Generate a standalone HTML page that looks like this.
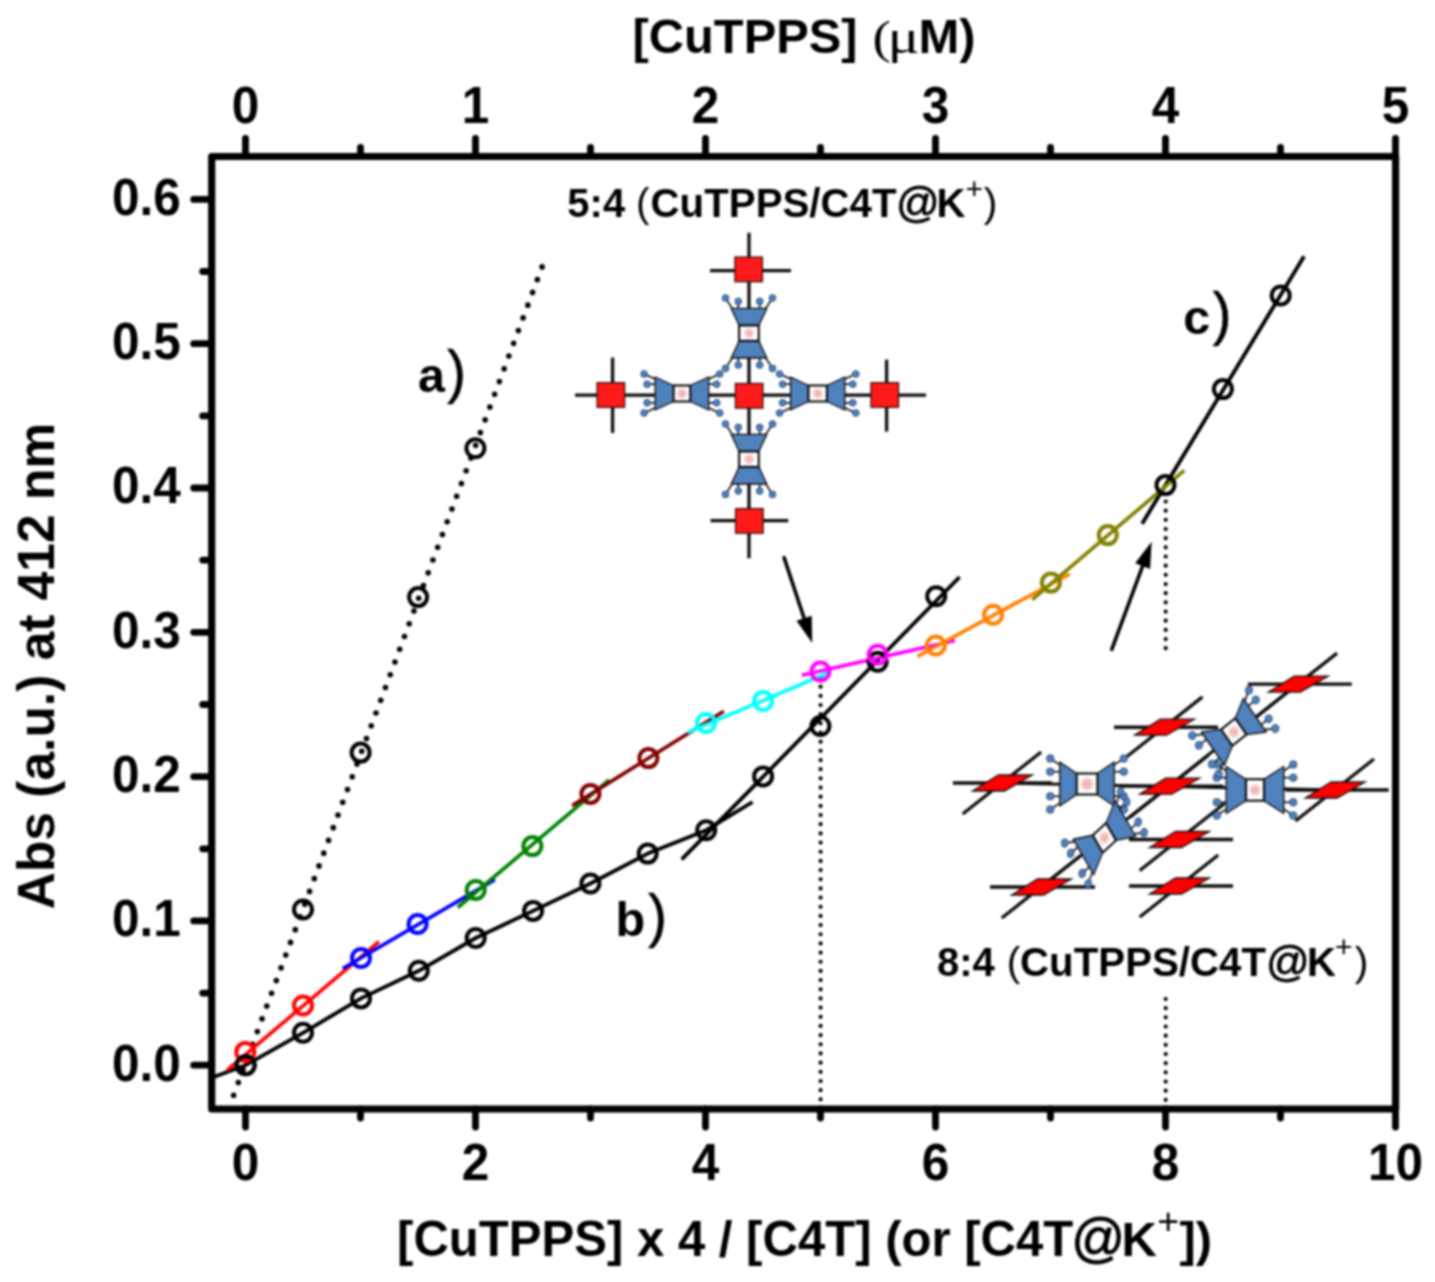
<!DOCTYPE html>
<html><head><meta charset="utf-8"><style>html,body{margin:0;padding:0;background:#fff;}svg{display:block;filter:blur(0.8px);}</style></head>
<body><svg width="1435" height="1282" viewBox="0 0 1435 1282">
<rect width="1435" height="1282" fill="#fff"/>
<rect x="211.7" y="156.5" width="1183.8999999999999" height="952.5" fill="none" stroke="#000" stroke-width="7.2" stroke-linejoin="round"/>
<g stroke="#000" stroke-width="6.8" stroke-linecap="round"><line x1="245.5" y1="1109.0" x2="245.5" y2="1127.0"/><line x1="360.5" y1="1109.0" x2="360.5" y2="1118.0"/><line x1="475.5" y1="1109.0" x2="475.5" y2="1127.0"/><line x1="590.5" y1="1109.0" x2="590.5" y2="1118.0"/><line x1="705.5" y1="1109.0" x2="705.5" y2="1127.0"/><line x1="820.5" y1="1109.0" x2="820.5" y2="1118.0"/><line x1="935.5" y1="1109.0" x2="935.5" y2="1127.0"/><line x1="1050.5" y1="1109.0" x2="1050.5" y2="1118.0"/><line x1="1165.5" y1="1109.0" x2="1165.5" y2="1127.0"/><line x1="1280.5" y1="1109.0" x2="1280.5" y2="1118.0"/><line x1="1395.5" y1="1109.0" x2="1395.5" y2="1127.0"/><line x1="245.5" y1="156.5" x2="245.5" y2="138.5"/><line x1="360.5" y1="156.5" x2="360.5" y2="147.5"/><line x1="475.5" y1="156.5" x2="475.5" y2="138.5"/><line x1="590.5" y1="156.5" x2="590.5" y2="147.5"/><line x1="705.5" y1="156.5" x2="705.5" y2="138.5"/><line x1="820.5" y1="156.5" x2="820.5" y2="147.5"/><line x1="935.5" y1="156.5" x2="935.5" y2="138.5"/><line x1="1050.5" y1="156.5" x2="1050.5" y2="147.5"/><line x1="1165.5" y1="156.5" x2="1165.5" y2="138.5"/><line x1="1280.5" y1="156.5" x2="1280.5" y2="147.5"/><line x1="1395.5" y1="156.5" x2="1395.5" y2="138.5"/><line x1="211.7" y1="1065.2" x2="193.7" y2="1065.2"/><line x1="211.7" y1="993.1" x2="202.7" y2="993.1"/><line x1="211.7" y1="920.9" x2="193.7" y2="920.9"/><line x1="211.7" y1="848.8" x2="202.7" y2="848.8"/><line x1="211.7" y1="776.6" x2="193.7" y2="776.6"/><line x1="211.7" y1="704.5" x2="202.7" y2="704.5"/><line x1="211.7" y1="632.3" x2="193.7" y2="632.3"/><line x1="211.7" y1="560.1" x2="202.7" y2="560.1"/><line x1="211.7" y1="488.0" x2="193.7" y2="488.0"/><line x1="211.7" y1="415.9" x2="202.7" y2="415.9"/><line x1="211.7" y1="343.7" x2="193.7" y2="343.7"/><line x1="211.7" y1="271.5" x2="202.7" y2="271.5"/><line x1="211.7" y1="199.4" x2="193.7" y2="199.4"/></g>
<g font-family="Liberation Sans, sans-serif" font-weight="bold" font-size="49.5" fill="#000"><text transform="translate(245.5,1179.8) scale(1,1.04)" text-anchor="middle">0</text><text transform="translate(475.5,1179.8) scale(1,1.04)" text-anchor="middle">2</text><text transform="translate(705.5,1179.8) scale(1,1.04)" text-anchor="middle">4</text><text transform="translate(935.5,1179.8) scale(1,1.04)" text-anchor="middle">6</text><text transform="translate(1165.5,1179.8) scale(1,1.04)" text-anchor="middle">8</text><text transform="translate(1395.5,1179.8) scale(1,1.04)" text-anchor="middle">10</text><text transform="translate(245.5,122.8) scale(1,1.04)" text-anchor="middle">0</text><text transform="translate(475.5,122.8) scale(1,1.04)" text-anchor="middle">1</text><text transform="translate(705.5,122.8) scale(1,1.04)" text-anchor="middle">2</text><text transform="translate(935.5,122.8) scale(1,1.04)" text-anchor="middle">3</text><text transform="translate(1165.5,122.8) scale(1,1.04)" text-anchor="middle">4</text><text transform="translate(1395.5,122.8) scale(1,1.04)" text-anchor="middle">5</text><text transform="translate(180.8,1080.5) scale(1,1.04)" text-anchor="end">0.0</text><text transform="translate(180.8,936.2) scale(1,1.04)" text-anchor="end">0.1</text><text transform="translate(180.8,791.9) scale(1,1.04)" text-anchor="end">0.2</text><text transform="translate(180.8,647.6) scale(1,1.04)" text-anchor="end">0.3</text><text transform="translate(180.8,503.3) scale(1,1.04)" text-anchor="end">0.4</text><text transform="translate(180.8,359.0) scale(1,1.04)" text-anchor="end">0.5</text><text transform="translate(180.8,214.7) scale(1,1.04)" text-anchor="end">0.6</text></g>
<text font-family="Liberation Sans, sans-serif" font-weight="bold" font-size="48.8" transform="translate(632.56,53.00)" >[CuTPPS]</text>
<text font-family="Liberation Serif, serif" font-weight="normal" font-size="49" transform="translate(872.39,53.00) scale(1.12,0.93)" >(</text>
<text font-family="Liberation Serif, serif" font-weight="normal" font-size="49" transform="translate(887.45,53.00) scale(1.22,1.0)" >μ</text>
<text font-family="Liberation Sans, sans-serif" font-weight="bold" font-size="49" transform="translate(918.52,53.00)" >M)</text>
<text font-family="Liberation Sans, sans-serif" font-weight="bold" font-size="51.5" transform="translate(54,909.3) rotate(-90)" x="0" y="0">Abs (a.u.) at 412 nm</text>
<text font-family="Liberation Sans, sans-serif" font-weight="bold" font-size="49.08" transform="translate(397.04,1256.00)" >[CuTPPS] x 4 / [C4T] (or [C4T</text>
<text font-family="Liberation Sans, sans-serif" font-weight="normal" font-size="53" transform="translate(1071.33,1256.00)" stroke="#000" stroke-width="0.9">@</text>
<text font-family="Liberation Sans, sans-serif" font-weight="bold" font-size="49" transform="translate(1121.52,1256.00)" >K</text>
<text font-family="Liberation Sans, sans-serif" font-weight="normal" font-size="37.5" transform="translate(1157.37,1233.50)" >+</text>
<text font-family="Liberation Sans, sans-serif" font-weight="bold" font-size="49" transform="translate(1179.40,1256.00)" >])</text>
<text font-family="Liberation Sans, sans-serif" font-weight="bold" font-size="40" transform="translate(567.37,217.30)" >5:4</text>
<text font-family="Liberation Sans, sans-serif" font-weight="normal" font-size="40.5" transform="translate(635.89,217.30)" >(</text>
<text font-family="Liberation Sans, sans-serif" font-weight="bold" font-size="40.25" transform="translate(650.55,217.30)" >CuTPPS/C4T</text>
<text font-family="Liberation Sans, sans-serif" font-weight="normal" font-size="43" transform="translate(895.92,217.30)" stroke="#000" stroke-width="0.8">@</text>
<text font-family="Liberation Sans, sans-serif" font-weight="bold" font-size="40" transform="translate(936.52,217.30)" >K</text>
<text font-family="Liberation Sans, sans-serif" font-weight="normal" font-size="30" transform="translate(965.54,199.00)" >+</text>
<text font-family="Liberation Sans, sans-serif" font-weight="normal" font-size="41" transform="translate(983.66,217.30)" >)</text>
<text font-family="Liberation Sans, sans-serif" font-weight="bold" font-size="40" transform="translate(936.93,975.50)" >8:4</text>
<text font-family="Liberation Sans, sans-serif" font-weight="normal" font-size="40.5" transform="translate(1006.69,975.50)" >(</text>
<text font-family="Liberation Sans, sans-serif" font-weight="bold" font-size="40.25" transform="translate(1020.05,975.50)" >CuTPPS/C4T</text>
<text font-family="Liberation Sans, sans-serif" font-weight="normal" font-size="43" transform="translate(1265.92,975.50)" stroke="#000" stroke-width="0.8">@</text>
<text font-family="Liberation Sans, sans-serif" font-weight="bold" font-size="40" transform="translate(1307.02,975.50)" >K</text>
<text font-family="Liberation Sans, sans-serif" font-weight="normal" font-size="30" transform="translate(1335.04,956.60)" >+</text>
<text font-family="Liberation Sans, sans-serif" font-weight="normal" font-size="41" transform="translate(1354.66,975.50)" >)</text>
<text font-family="Liberation Sans, sans-serif" font-weight="bold" font-size="48.5" transform="translate(417.98,391.50)" >a</text>
<text font-family="Liberation Sans, sans-serif" font-weight="normal" font-size="59" transform="translate(447.27,391.50) scale(0.95,1.0)" stroke="#000" stroke-width="0.7">)</text>
<text font-family="Liberation Sans, sans-serif" font-weight="bold" font-size="48.5" transform="translate(615.40,936.30)" >b</text>
<text font-family="Liberation Sans, sans-serif" font-weight="normal" font-size="59" transform="translate(648.17,936.30) scale(0.95,1.0)" stroke="#000" stroke-width="0.7">)</text>
<text font-family="Liberation Sans, sans-serif" font-weight="bold" font-size="48.5" transform="translate(1183.21,334.00)" >c</text>
<text font-family="Liberation Sans, sans-serif" font-weight="normal" font-size="59" transform="translate(1212.87,334.00) scale(0.95,1.0)" stroke="#000" stroke-width="0.7">)</text>
<line x1="542.1" y1="266.9" x2="229.6" y2="1106" stroke="#000" stroke-width="5.6" stroke-linecap="round" stroke-dasharray="0 13.6"/>
<g stroke="#000" stroke-width="4.2" stroke-linecap="round" stroke-dasharray="0 9.17"><line x1="820.6" y1="677.5" x2="820.6" y2="1106"/><line x1="1165.7" y1="501.5" x2="1165.7" y2="652"/><line x1="1165.7" y1="999" x2="1165.7" y2="1101"/></g>
<polyline points="214.4,1076.8 245.5,1065.2 303.0,1032.8 361.0,998.4 418.8,970.8 475.7,938.0 533.1,910.9 590.4,883.5 647.7,853.6 706.2,830.2 752.5,802.0" fill="none" stroke="#000" stroke-width="3.8" stroke-linejoin="round" />
<polyline points="681.7,859.4 959.6,577.0" fill="none" stroke="#000" stroke-width="3.8" stroke-linejoin="round" />
<polyline points="1142.1,523.7 1304.1,256.2" fill="none" stroke="#000" stroke-width="3.8" stroke-linejoin="round" />
<polyline points="226.9,1070.3 379.0,941.6" fill="none" stroke="#ff0000" stroke-width="3.6" stroke-linejoin="round" />
<polyline points="342.7,968.5 494.9,879.6" fill="none" stroke="#0000ff" stroke-width="3.6" stroke-linejoin="round" />
<polyline points="457.8,907.5 609.1,779.9" fill="none" stroke="#008000" stroke-width="3.6" stroke-linejoin="round" />
<polyline points="572.2,805.6 723.8,711.3" fill="none" stroke="#800000" stroke-width="3.6" stroke-linejoin="round" />
<polyline points="687.2,732.7 829.8,672.2" fill="none" stroke="#00ffff" stroke-width="3.6" stroke-linejoin="round" />
<polyline points="801.7,675.3 955.0,640.6" fill="none" stroke="#ff00ff" stroke-width="3.6" stroke-linejoin="round" />
<polyline points="917.6,656.4 1069.7,574.0" fill="none" stroke="#ff8000" stroke-width="3.6" stroke-linejoin="round" />
<polyline points="1032.2,599.7 1184.3,470.3" fill="none" stroke="#808000" stroke-width="3.6" stroke-linejoin="round" />
<circle cx="303.0" cy="909.5" r="9" fill="none" stroke="#000" stroke-width="4"/><circle cx="360.6" cy="752.6" r="9" fill="none" stroke="#000" stroke-width="4"/><circle cx="418.1" cy="597.1" r="9" fill="none" stroke="#000" stroke-width="4"/><circle cx="475.4" cy="448.3" r="9" fill="none" stroke="#000" stroke-width="4"/>
<circle cx="245.5" cy="1065.2" r="9" fill="none" stroke="#000" stroke-width="4"/><circle cx="303.0" cy="1032.8" r="9" fill="none" stroke="#000" stroke-width="4"/><circle cx="361.0" cy="998.4" r="9" fill="none" stroke="#000" stroke-width="4"/><circle cx="418.8" cy="970.8" r="9" fill="none" stroke="#000" stroke-width="4"/><circle cx="475.7" cy="938.0" r="9" fill="none" stroke="#000" stroke-width="4"/><circle cx="533.1" cy="910.9" r="9" fill="none" stroke="#000" stroke-width="4"/><circle cx="590.4" cy="883.5" r="9" fill="none" stroke="#000" stroke-width="4"/><circle cx="647.7" cy="853.6" r="9" fill="none" stroke="#000" stroke-width="4"/><circle cx="706.2" cy="830.2" r="9" fill="none" stroke="#000" stroke-width="4"/>
<circle cx="763.1" cy="776.4" r="9" fill="none" stroke="#000" stroke-width="4"/><circle cx="820.4" cy="726.0" r="9" fill="none" stroke="#000" stroke-width="4"/><circle cx="877.7" cy="661.7" r="9" fill="none" stroke="#000" stroke-width="4"/><circle cx="936.2" cy="596.2" r="9" fill="none" stroke="#000" stroke-width="4"/>
<circle cx="1165.5" cy="485.1" r="9" fill="none" stroke="#000" stroke-width="4"/><circle cx="1222.9" cy="389.1" r="9" fill="none" stroke="#000" stroke-width="4"/><circle cx="1280.7" cy="295.5" r="9" fill="none" stroke="#000" stroke-width="4"/>
<circle cx="245.3" cy="1051.9" r="9" fill="none" stroke="#ff0000" stroke-width="4"/><circle cx="303.0" cy="1005.5" r="9" fill="none" stroke="#ff0000" stroke-width="4"/>
<circle cx="361.0" cy="958.0" r="9" fill="none" stroke="#0000ff" stroke-width="4"/><circle cx="417.6" cy="924.0" r="9" fill="none" stroke="#0000ff" stroke-width="4"/>
<circle cx="475.7" cy="890.0" r="9" fill="none" stroke="#008000" stroke-width="4"/><circle cx="532.4" cy="846.1" r="9" fill="none" stroke="#008000" stroke-width="4"/>
<circle cx="590.4" cy="793.9" r="9" fill="none" stroke="#800000" stroke-width="4"/><circle cx="648.4" cy="758.1" r="9" fill="none" stroke="#800000" stroke-width="4"/>
<circle cx="706.0" cy="723.0" r="9" fill="none" stroke="#00ffff" stroke-width="4"/><circle cx="763.1" cy="701.0" r="9" fill="none" stroke="#00ffff" stroke-width="4"/>
<circle cx="820.4" cy="671.5" r="9" fill="none" stroke="#ff00ff" stroke-width="4"/><circle cx="877.7" cy="654.7" r="9" fill="none" stroke="#ff00ff" stroke-width="4"/>
<circle cx="935.8" cy="645.5" r="9" fill="none" stroke="#ff8000" stroke-width="4"/><circle cx="993.1" cy="614.7" r="9" fill="none" stroke="#ff8000" stroke-width="4"/>
<circle cx="1050.9" cy="582.6" r="9" fill="none" stroke="#808000" stroke-width="4"/><circle cx="1107.8" cy="535.1" r="9" fill="none" stroke="#808000" stroke-width="4"/>
<circle cx="245.8" cy="1065.2" r="9" fill="none" stroke="#000" stroke-width="4"/>
<line x1="784.1" y1="557.6" x2="804.1" y2="618.3" stroke="#000" stroke-width="3.6" stroke-linecap="round"/>
<polygon points="812.2,643 796.5,620.8 811.7,615.8" fill="#000"/>
<line x1="1111.8" y1="649.3" x2="1142.6" y2="566.1" stroke="#000" stroke-width="3.6" stroke-linecap="round"/>
<polygon points="1151.6,541.7 1150.1,568.9 1135.1,563.3" fill="#000"/>
<defs><radialGradient id="pk"><stop offset="0" stop-color="#f3a9ab"/><stop offset="0.6" stop-color="#f6c6c7"/><stop offset="1" stop-color="#fff"/></radialGradient></defs>
<line x1="749" y1="232.8" x2="749" y2="558.3" stroke="#0d0d0d" stroke-width="3.3"/>
<line x1="575" y1="395.2" x2="926" y2="395.2" stroke="#0d0d0d" stroke-width="3.3"/>
<line x1="710" y1="270.7" x2="791" y2="270.7" stroke="#0d0d0d" stroke-width="3.3"/>
<line x1="710.5" y1="520.7" x2="788.3" y2="520.7" stroke="#0d0d0d" stroke-width="3.3"/>
<line x1="612.6" y1="357.6" x2="612.6" y2="432.9" stroke="#0d0d0d" stroke-width="3.3"/>
<line x1="886.6" y1="359.6" x2="886.6" y2="431.6" stroke="#0d0d0d" stroke-width="3.3"/>
<rect x="735.4" y="383.5" width="27.5" height="24.6" fill="#ff1a1a" stroke="#3a0a0a" stroke-width="1.3"/>
<rect x="734.9" y="257.1" width="27.5" height="24.6" fill="#ff1a1a" stroke="#3a0a0a" stroke-width="1.3"/>
<rect x="735.6" y="508.6" width="27.5" height="24.6" fill="#ff1a1a" stroke="#3a0a0a" stroke-width="1.3"/>
<rect x="597.1" y="382.7" width="27.5" height="24.6" fill="#ff1a1a" stroke="#3a0a0a" stroke-width="1.3"/>
<rect x="871" y="382.7" width="27.5" height="24.6" fill="#ff1a1a" stroke="#3a0a0a" stroke-width="1.3"/>
<g transform="translate(749,333.2) rotate(90)"><line x1="-24.8" y1="-16.8" x2="-35.2" y2="-23.5" stroke="#0d0d0d" stroke-width="1.6"/><circle cx="-35.2" cy="-23.5" r="3.3" fill="#4f81bd" stroke="#2b4a75" stroke-width="1"/><line x1="-24.8" y1="-10.7" x2="-31.8" y2="-10.7" stroke="#0d0d0d" stroke-width="1.6"/><circle cx="-31.8" cy="-10.7" r="3.3" fill="#4f81bd" stroke="#2b4a75" stroke-width="1"/><line x1="-24.8" y1="10.7" x2="-31.8" y2="10.7" stroke="#0d0d0d" stroke-width="1.6"/><circle cx="-31.8" cy="10.7" r="3.3" fill="#4f81bd" stroke="#2b4a75" stroke-width="1"/><line x1="-24.8" y1="16.8" x2="-35.2" y2="23.5" stroke="#0d0d0d" stroke-width="1.6"/><circle cx="-35.2" cy="23.5" r="3.3" fill="#4f81bd" stroke="#2b4a75" stroke-width="1"/><line x1="24.8" y1="-16.8" x2="35.2" y2="-23.5" stroke="#0d0d0d" stroke-width="1.6"/><circle cx="35.2" cy="-23.5" r="3.3" fill="#4f81bd" stroke="#2b4a75" stroke-width="1"/><line x1="24.8" y1="-10.7" x2="31.8" y2="-10.7" stroke="#0d0d0d" stroke-width="1.6"/><circle cx="31.8" cy="-10.7" r="3.3" fill="#4f81bd" stroke="#2b4a75" stroke-width="1"/><line x1="24.8" y1="10.7" x2="31.8" y2="10.7" stroke="#0d0d0d" stroke-width="1.6"/><circle cx="31.8" cy="10.7" r="3.3" fill="#4f81bd" stroke="#2b4a75" stroke-width="1"/><line x1="24.8" y1="16.8" x2="35.2" y2="23.5" stroke="#0d0d0d" stroke-width="1.6"/><circle cx="35.2" cy="23.5" r="3.3" fill="#4f81bd" stroke="#2b4a75" stroke-width="1"/><polygon points="-24.8,-17.8 -7.7,-9.8 -7.7,9.8 -24.8,17.8" fill="#4f81bd" stroke="#0d0d0d" stroke-width="1.3" stroke-linejoin="round"/><polygon points="24.8,-17.8 7.7,-9.8 7.7,9.8 24.8,17.8" fill="#4f81bd" stroke="#0d0d0d" stroke-width="1.3" stroke-linejoin="round"/><rect x="-7.7" y="-9.8" width="15.4" height="19.7" fill="#fff" stroke="#0d0d0d" stroke-width="2.1"/><circle cx="0" cy="0" r="5.8" fill="url(#pk)"/></g>
<g transform="translate(749,459.2) rotate(90)"><line x1="-24.8" y1="-16.8" x2="-35.2" y2="-23.5" stroke="#0d0d0d" stroke-width="1.6"/><circle cx="-35.2" cy="-23.5" r="3.3" fill="#4f81bd" stroke="#2b4a75" stroke-width="1"/><line x1="-24.8" y1="-10.7" x2="-31.8" y2="-10.7" stroke="#0d0d0d" stroke-width="1.6"/><circle cx="-31.8" cy="-10.7" r="3.3" fill="#4f81bd" stroke="#2b4a75" stroke-width="1"/><line x1="-24.8" y1="10.7" x2="-31.8" y2="10.7" stroke="#0d0d0d" stroke-width="1.6"/><circle cx="-31.8" cy="10.7" r="3.3" fill="#4f81bd" stroke="#2b4a75" stroke-width="1"/><line x1="-24.8" y1="16.8" x2="-35.2" y2="23.5" stroke="#0d0d0d" stroke-width="1.6"/><circle cx="-35.2" cy="23.5" r="3.3" fill="#4f81bd" stroke="#2b4a75" stroke-width="1"/><line x1="24.8" y1="-16.8" x2="35.2" y2="-23.5" stroke="#0d0d0d" stroke-width="1.6"/><circle cx="35.2" cy="-23.5" r="3.3" fill="#4f81bd" stroke="#2b4a75" stroke-width="1"/><line x1="24.8" y1="-10.7" x2="31.8" y2="-10.7" stroke="#0d0d0d" stroke-width="1.6"/><circle cx="31.8" cy="-10.7" r="3.3" fill="#4f81bd" stroke="#2b4a75" stroke-width="1"/><line x1="24.8" y1="10.7" x2="31.8" y2="10.7" stroke="#0d0d0d" stroke-width="1.6"/><circle cx="31.8" cy="10.7" r="3.3" fill="#4f81bd" stroke="#2b4a75" stroke-width="1"/><line x1="24.8" y1="16.8" x2="35.2" y2="23.5" stroke="#0d0d0d" stroke-width="1.6"/><circle cx="35.2" cy="23.5" r="3.3" fill="#4f81bd" stroke="#2b4a75" stroke-width="1"/><polygon points="-24.8,-17.8 -7.7,-9.8 -7.7,9.8 -24.8,17.8" fill="#4f81bd" stroke="#0d0d0d" stroke-width="1.3" stroke-linejoin="round"/><polygon points="24.8,-17.8 7.7,-9.8 7.7,9.8 24.8,17.8" fill="#4f81bd" stroke="#0d0d0d" stroke-width="1.3" stroke-linejoin="round"/><rect x="-7.7" y="-9.8" width="15.4" height="19.7" fill="#fff" stroke="#0d0d0d" stroke-width="2.1"/><circle cx="0" cy="0" r="5.8" fill="url(#pk)"/></g>
<g transform="translate(681.9,393.5) rotate(0)"><line x1="-26.8" y1="-14.6" x2="-37.8" y2="-19.5" stroke="#0d0d0d" stroke-width="1.6"/><circle cx="-37.8" cy="-19.5" r="3.3" fill="#4f81bd" stroke="#2b4a75" stroke-width="1"/><line x1="-26.8" y1="-9.3" x2="-34.8" y2="-9.3" stroke="#0d0d0d" stroke-width="1.6"/><circle cx="-34.8" cy="-9.3" r="3.3" fill="#4f81bd" stroke="#2b4a75" stroke-width="1"/><line x1="-26.8" y1="9.3" x2="-34.8" y2="9.3" stroke="#0d0d0d" stroke-width="1.6"/><circle cx="-34.8" cy="9.3" r="3.3" fill="#4f81bd" stroke="#2b4a75" stroke-width="1"/><line x1="-26.8" y1="14.6" x2="-37.8" y2="19.5" stroke="#0d0d0d" stroke-width="1.6"/><circle cx="-37.8" cy="19.5" r="3.3" fill="#4f81bd" stroke="#2b4a75" stroke-width="1"/><line x1="26.8" y1="-14.6" x2="37.8" y2="-19.5" stroke="#0d0d0d" stroke-width="1.6"/><circle cx="37.8" cy="-19.5" r="3.3" fill="#4f81bd" stroke="#2b4a75" stroke-width="1"/><line x1="26.8" y1="-9.3" x2="34.8" y2="-9.3" stroke="#0d0d0d" stroke-width="1.6"/><circle cx="34.8" cy="-9.3" r="3.3" fill="#4f81bd" stroke="#2b4a75" stroke-width="1"/><line x1="26.8" y1="9.3" x2="34.8" y2="9.3" stroke="#0d0d0d" stroke-width="1.6"/><circle cx="34.8" cy="9.3" r="3.3" fill="#4f81bd" stroke="#2b4a75" stroke-width="1"/><line x1="26.8" y1="14.6" x2="37.8" y2="19.5" stroke="#0d0d0d" stroke-width="1.6"/><circle cx="37.8" cy="19.5" r="3.3" fill="#4f81bd" stroke="#2b4a75" stroke-width="1"/><polygon points="-26.8,-16.5 -8.3,-8.0 -8.3,8.0 -26.8,16.5" fill="#4f81bd" stroke="#0d0d0d" stroke-width="1.3" stroke-linejoin="round"/><polygon points="26.8,-16.5 8.3,-8.0 8.3,8.0 26.8,16.5" fill="#4f81bd" stroke="#0d0d0d" stroke-width="1.3" stroke-linejoin="round"/><rect x="-8.3" y="-8.0" width="16.7" height="16.0" fill="#fff" stroke="#0d0d0d" stroke-width="2.1"/><circle cx="0" cy="0" r="6.0" fill="url(#pk)"/></g>
<g transform="translate(817.7,393.5) rotate(0)"><line x1="-27.1" y1="-14.6" x2="-38.1" y2="-19.5" stroke="#0d0d0d" stroke-width="1.6"/><circle cx="-38.1" cy="-19.5" r="3.3" fill="#4f81bd" stroke="#2b4a75" stroke-width="1"/><line x1="-27.1" y1="-9.3" x2="-35.1" y2="-9.3" stroke="#0d0d0d" stroke-width="1.6"/><circle cx="-35.1" cy="-9.3" r="3.3" fill="#4f81bd" stroke="#2b4a75" stroke-width="1"/><line x1="-27.1" y1="9.3" x2="-35.1" y2="9.3" stroke="#0d0d0d" stroke-width="1.6"/><circle cx="-35.1" cy="9.3" r="3.3" fill="#4f81bd" stroke="#2b4a75" stroke-width="1"/><line x1="-27.1" y1="14.6" x2="-38.1" y2="19.5" stroke="#0d0d0d" stroke-width="1.6"/><circle cx="-38.1" cy="19.5" r="3.3" fill="#4f81bd" stroke="#2b4a75" stroke-width="1"/><line x1="27.1" y1="-14.6" x2="38.1" y2="-19.5" stroke="#0d0d0d" stroke-width="1.6"/><circle cx="38.1" cy="-19.5" r="3.3" fill="#4f81bd" stroke="#2b4a75" stroke-width="1"/><line x1="27.1" y1="-9.3" x2="35.1" y2="-9.3" stroke="#0d0d0d" stroke-width="1.6"/><circle cx="35.1" cy="-9.3" r="3.3" fill="#4f81bd" stroke="#2b4a75" stroke-width="1"/><line x1="27.1" y1="9.3" x2="35.1" y2="9.3" stroke="#0d0d0d" stroke-width="1.6"/><circle cx="35.1" cy="9.3" r="3.3" fill="#4f81bd" stroke="#2b4a75" stroke-width="1"/><line x1="27.1" y1="14.6" x2="38.1" y2="19.5" stroke="#0d0d0d" stroke-width="1.6"/><circle cx="38.1" cy="19.5" r="3.3" fill="#4f81bd" stroke="#2b4a75" stroke-width="1"/><polygon points="-27.1,-16.5 -9.2,-8.0 -9.2,8.0 -27.1,16.5" fill="#4f81bd" stroke="#0d0d0d" stroke-width="1.3" stroke-linejoin="round"/><polygon points="27.1,-16.5 9.2,-8.0 9.2,8.0 27.1,16.5" fill="#4f81bd" stroke="#0d0d0d" stroke-width="1.3" stroke-linejoin="round"/><rect x="-9.2" y="-8.0" width="18.4" height="16.0" fill="#fff" stroke="#0d0d0d" stroke-width="2.1"/><circle cx="0" cy="0" r="6.0" fill="url(#pk)"/></g>
<line x1="1001.9" y1="783" x2="1336" y2="790" stroke="#0d0d0d" stroke-width="3"/>
<line x1="1041" y1="887" x2="1297.8" y2="684" stroke="#0d0d0d" stroke-width="3"/>
<line x1="1247.8" y1="684.15" x2="1351.8" y2="684.15" stroke="#0d0d0d" stroke-width="3.3"/>
<line x1="1254.625" y1="718.25" x2="1337.05" y2="653.15" stroke="#0d0d0d" stroke-width="3.3"/>
<polygon points="1294.3,676.1 1328.3,676.1 1300.3,692.1 1268.3,692.1" fill="#ff0000" stroke="#111" stroke-width="1.3" stroke-linejoin="miter"/>
<line x1="1114" y1="727.25" x2="1218" y2="727.25" stroke="#0d0d0d" stroke-width="3.3"/>
<line x1="1121.61" y1="760.73" x2="1202.465" y2="696.87" stroke="#0d0d0d" stroke-width="3.3"/>
<polygon points="1160.5,719.2 1194.5,719.2 1166.5,735.2 1134.5,735.2" fill="#ff0000" stroke="#111" stroke-width="1.3" stroke-linejoin="miter"/>
<line x1="952.9" y1="783" x2="1051.9" y2="783" stroke="#0d0d0d" stroke-width="3.3"/>
<line x1="962.65" y1="814.0" x2="1041.15" y2="752.0" stroke="#0d0d0d" stroke-width="3.3"/>
<polygon points="998.4,775.0 1032.4,775.0 1004.4,791.0 972.4,791.0" fill="#ff0000" stroke="#111" stroke-width="1.3" stroke-linejoin="miter"/>
<line x1="1119.2" y1="786.2" x2="1223.2" y2="786.2" stroke="#0d0d0d" stroke-width="3.3"/>
<line x1="1129.95" y1="817.2" x2="1208.45" y2="755.2" stroke="#0d0d0d" stroke-width="3.3"/>
<polygon points="1165.7,778.2 1199.7,778.2 1171.7,794.2 1139.7,794.2" fill="#ff0000" stroke="#111" stroke-width="1.3" stroke-linejoin="miter"/>
<line x1="1285.7" y1="790" x2="1388.7" y2="790" stroke="#0d0d0d" stroke-width="3.3"/>
<line x1="1295.45" y1="821.0" x2="1373.95" y2="759.0" stroke="#0d0d0d" stroke-width="3.3"/>
<polygon points="1331.2,782.0 1365.2,782.0 1337.2,798.0 1305.2,798.0" fill="#ff0000" stroke="#111" stroke-width="1.3" stroke-linejoin="miter"/>
<line x1="1129" y1="839.5" x2="1233" y2="839.5" stroke="#0d0d0d" stroke-width="3.3"/>
<line x1="1139.75" y1="870.5" x2="1224.53" y2="803.54" stroke="#0d0d0d" stroke-width="3.3"/>
<polygon points="1175.5,831.5 1209.5,831.5 1181.5,847.5 1149.5,847.5" fill="#ff0000" stroke="#111" stroke-width="1.3" stroke-linejoin="miter"/>
<line x1="990" y1="887" x2="1095" y2="887" stroke="#0d0d0d" stroke-width="3.3"/>
<line x1="1001.75" y1="918.0" x2="1080.25" y2="856.0" stroke="#0d0d0d" stroke-width="3.3"/>
<polygon points="1037.5,879.0 1071.5,879.0 1043.5,895.0 1011.5,895.0" fill="#ff0000" stroke="#111" stroke-width="1.3" stroke-linejoin="miter"/>
<line x1="1129" y1="886" x2="1233" y2="886" stroke="#0d0d0d" stroke-width="3.3"/>
<line x1="1139.75" y1="917.0" x2="1218.25" y2="855.0" stroke="#0d0d0d" stroke-width="3.3"/>
<polygon points="1175.5,878.0 1209.5,878.0 1181.5,894.0 1149.5,894.0" fill="#ff0000" stroke="#111" stroke-width="1.3" stroke-linejoin="miter"/>
<g transform="translate(1087,784) rotate(0)"><line x1="-27.2" y1="-19.1" x2="-36.8" y2="-25.5" stroke="#0d0d0d" stroke-width="1.6"/><circle cx="-36.8" cy="-25.5" r="3.7" fill="#4f81bd" stroke="#2b4a75" stroke-width="1"/><line x1="-27.2" y1="-12.3" x2="-36.8" y2="-12.3" stroke="#0d0d0d" stroke-width="1.6"/><circle cx="-36.8" cy="-12.3" r="3.7" fill="#4f81bd" stroke="#2b4a75" stroke-width="1"/><line x1="-27.2" y1="12.3" x2="-36.8" y2="12.3" stroke="#0d0d0d" stroke-width="1.6"/><circle cx="-36.8" cy="12.3" r="3.7" fill="#4f81bd" stroke="#2b4a75" stroke-width="1"/><line x1="-27.2" y1="19.1" x2="-36.8" y2="25.5" stroke="#0d0d0d" stroke-width="1.6"/><circle cx="-36.8" cy="25.5" r="3.7" fill="#4f81bd" stroke="#2b4a75" stroke-width="1"/><line x1="27.2" y1="-19.1" x2="36.8" y2="-25.5" stroke="#0d0d0d" stroke-width="1.6"/><circle cx="36.8" cy="-25.5" r="3.7" fill="#4f81bd" stroke="#2b4a75" stroke-width="1"/><line x1="27.2" y1="-12.3" x2="36.8" y2="-12.3" stroke="#0d0d0d" stroke-width="1.6"/><circle cx="36.8" cy="-12.3" r="3.7" fill="#4f81bd" stroke="#2b4a75" stroke-width="1"/><line x1="27.2" y1="12.3" x2="36.8" y2="12.3" stroke="#0d0d0d" stroke-width="1.6"/><circle cx="36.8" cy="12.3" r="3.7" fill="#4f81bd" stroke="#2b4a75" stroke-width="1"/><line x1="27.2" y1="19.1" x2="36.8" y2="25.5" stroke="#0d0d0d" stroke-width="1.6"/><circle cx="36.8" cy="25.5" r="3.7" fill="#4f81bd" stroke="#2b4a75" stroke-width="1"/><polygon points="-27.2,-22.0 -10.3,-10.5 -10.3,10.5 -27.2,22.0" fill="#4f81bd" stroke="#0d0d0d" stroke-width="1.3" stroke-linejoin="round"/><polygon points="27.2,-22.0 10.3,-10.5 10.3,10.5 27.2,22.0" fill="#4f81bd" stroke="#0d0d0d" stroke-width="1.3" stroke-linejoin="round"/><rect x="-10.3" y="-10.5" width="20.7" height="21.0" fill="#fff" stroke="#0d0d0d" stroke-width="2.1"/><circle cx="0" cy="0" r="7.8" fill="url(#pk)"/></g>
<g transform="translate(1255,790) rotate(0)"><line x1="-28.8" y1="-19.1" x2="-38.2" y2="-25.5" stroke="#0d0d0d" stroke-width="1.6"/><circle cx="-38.2" cy="-25.5" r="3.7" fill="#4f81bd" stroke="#2b4a75" stroke-width="1"/><line x1="-28.8" y1="-12.3" x2="-38.2" y2="-12.3" stroke="#0d0d0d" stroke-width="1.6"/><circle cx="-38.2" cy="-12.3" r="3.7" fill="#4f81bd" stroke="#2b4a75" stroke-width="1"/><line x1="-28.8" y1="12.3" x2="-38.2" y2="12.3" stroke="#0d0d0d" stroke-width="1.6"/><circle cx="-38.2" cy="12.3" r="3.7" fill="#4f81bd" stroke="#2b4a75" stroke-width="1"/><line x1="-28.8" y1="19.1" x2="-38.2" y2="25.5" stroke="#0d0d0d" stroke-width="1.6"/><circle cx="-38.2" cy="25.5" r="3.7" fill="#4f81bd" stroke="#2b4a75" stroke-width="1"/><line x1="28.8" y1="-19.1" x2="38.2" y2="-25.5" stroke="#0d0d0d" stroke-width="1.6"/><circle cx="38.2" cy="-25.5" r="3.7" fill="#4f81bd" stroke="#2b4a75" stroke-width="1"/><line x1="28.8" y1="-12.3" x2="38.2" y2="-12.3" stroke="#0d0d0d" stroke-width="1.6"/><circle cx="38.2" cy="-12.3" r="3.7" fill="#4f81bd" stroke="#2b4a75" stroke-width="1"/><line x1="28.8" y1="12.3" x2="38.2" y2="12.3" stroke="#0d0d0d" stroke-width="1.6"/><circle cx="38.2" cy="12.3" r="3.7" fill="#4f81bd" stroke="#2b4a75" stroke-width="1"/><line x1="28.8" y1="19.1" x2="38.2" y2="25.5" stroke="#0d0d0d" stroke-width="1.6"/><circle cx="38.2" cy="25.5" r="3.7" fill="#4f81bd" stroke="#2b4a75" stroke-width="1"/><polygon points="-28.8,-23.5 -9.0,-10.8 -9.0,10.8 -28.8,23.5" fill="#4f81bd" stroke="#0d0d0d" stroke-width="1.3" stroke-linejoin="round"/><polygon points="28.8,-23.5 9.0,-10.8 9.0,10.8 28.8,23.5" fill="#4f81bd" stroke="#0d0d0d" stroke-width="1.3" stroke-linejoin="round"/><rect x="-9.0" y="-10.8" width="18.0" height="21.5" fill="#fff" stroke="#0d0d0d" stroke-width="2.1"/><circle cx="0" cy="0" r="6.8" fill="url(#pk)"/></g>
<g transform="matrix(0.7817,-0.6250,0.5610,0.8171,1233.8,732)"><line x1="-26.8" y1="-17.6" x2="-36.3" y2="-23.5" stroke="#0d0d0d" stroke-width="1.6"/><circle cx="-36.3" cy="-23.5" r="3.7" fill="#4f81bd" stroke="#2b4a75" stroke-width="1"/><line x1="-26.8" y1="-11.5" x2="-36.3" y2="-11.5" stroke="#0d0d0d" stroke-width="1.6"/><circle cx="-36.3" cy="-11.5" r="3.7" fill="#4f81bd" stroke="#2b4a75" stroke-width="1"/><line x1="-26.8" y1="11.5" x2="-36.3" y2="11.5" stroke="#0d0d0d" stroke-width="1.6"/><circle cx="-36.3" cy="11.5" r="3.7" fill="#4f81bd" stroke="#2b4a75" stroke-width="1"/><line x1="-26.8" y1="17.6" x2="-36.3" y2="23.5" stroke="#0d0d0d" stroke-width="1.6"/><circle cx="-36.3" cy="23.5" r="3.7" fill="#4f81bd" stroke="#2b4a75" stroke-width="1"/><line x1="26.8" y1="-17.6" x2="36.3" y2="-23.5" stroke="#0d0d0d" stroke-width="1.6"/><circle cx="36.3" cy="-23.5" r="3.7" fill="#4f81bd" stroke="#2b4a75" stroke-width="1"/><line x1="26.8" y1="-11.5" x2="36.3" y2="-11.5" stroke="#0d0d0d" stroke-width="1.6"/><circle cx="36.3" cy="-11.5" r="3.7" fill="#4f81bd" stroke="#2b4a75" stroke-width="1"/><line x1="26.8" y1="11.5" x2="36.3" y2="11.5" stroke="#0d0d0d" stroke-width="1.6"/><circle cx="36.3" cy="11.5" r="3.7" fill="#4f81bd" stroke="#2b4a75" stroke-width="1"/><line x1="26.8" y1="17.6" x2="36.3" y2="23.5" stroke="#0d0d0d" stroke-width="1.6"/><circle cx="36.3" cy="23.5" r="3.7" fill="#4f81bd" stroke="#2b4a75" stroke-width="1"/><polygon points="-26.8,-20.5 -9.0,-10.0 -9.0,10.0 -26.8,20.5" fill="#4f81bd" stroke="#0d0d0d" stroke-width="1.3" stroke-linejoin="round"/><polygon points="26.8,-20.5 9.0,-10.0 9.0,10.0 26.8,20.5" fill="#4f81bd" stroke="#0d0d0d" stroke-width="1.3" stroke-linejoin="round"/><rect x="-9.0" y="-10.0" width="18.0" height="20.0" fill="#fff" stroke="#0d0d0d" stroke-width="2.1"/><circle cx="0" cy="0" r="6.8" fill="url(#pk)"/></g>
<g transform="matrix(0.7377,-0.6761,0.5000,0.8683,1104.4,837.8)"><line x1="-28.4" y1="-17.6" x2="-37.9" y2="-23.5" stroke="#0d0d0d" stroke-width="1.6"/><circle cx="-37.9" cy="-23.5" r="3.7" fill="#4f81bd" stroke="#2b4a75" stroke-width="1"/><line x1="-28.4" y1="-11.5" x2="-37.9" y2="-11.5" stroke="#0d0d0d" stroke-width="1.6"/><circle cx="-37.9" cy="-11.5" r="3.7" fill="#4f81bd" stroke="#2b4a75" stroke-width="1"/><line x1="-28.4" y1="11.5" x2="-37.9" y2="11.5" stroke="#0d0d0d" stroke-width="1.6"/><circle cx="-37.9" cy="11.5" r="3.7" fill="#4f81bd" stroke="#2b4a75" stroke-width="1"/><line x1="-28.4" y1="17.6" x2="-37.9" y2="23.5" stroke="#0d0d0d" stroke-width="1.6"/><circle cx="-37.9" cy="23.5" r="3.7" fill="#4f81bd" stroke="#2b4a75" stroke-width="1"/><line x1="28.4" y1="-17.6" x2="37.9" y2="-23.5" stroke="#0d0d0d" stroke-width="1.6"/><circle cx="37.9" cy="-23.5" r="3.7" fill="#4f81bd" stroke="#2b4a75" stroke-width="1"/><line x1="28.4" y1="-11.5" x2="37.9" y2="-11.5" stroke="#0d0d0d" stroke-width="1.6"/><circle cx="37.9" cy="-11.5" r="3.7" fill="#4f81bd" stroke="#2b4a75" stroke-width="1"/><line x1="28.4" y1="11.5" x2="37.9" y2="11.5" stroke="#0d0d0d" stroke-width="1.6"/><circle cx="37.9" cy="11.5" r="3.7" fill="#4f81bd" stroke="#2b4a75" stroke-width="1"/><line x1="28.4" y1="17.6" x2="37.9" y2="23.5" stroke="#0d0d0d" stroke-width="1.6"/><circle cx="37.9" cy="23.5" r="3.7" fill="#4f81bd" stroke="#2b4a75" stroke-width="1"/><polygon points="-28.4,-20.5 -9.0,-10.0 -9.0,10.0 -28.4,20.5" fill="#4f81bd" stroke="#0d0d0d" stroke-width="1.3" stroke-linejoin="round"/><polygon points="28.4,-20.5 9.0,-10.0 9.0,10.0 28.4,20.5" fill="#4f81bd" stroke="#0d0d0d" stroke-width="1.3" stroke-linejoin="round"/><rect x="-9.0" y="-10.0" width="18.0" height="20.0" fill="#fff" stroke="#0d0d0d" stroke-width="2.1"/><circle cx="0" cy="0" r="6.8" fill="url(#pk)"/></g>
</svg></body></html>
